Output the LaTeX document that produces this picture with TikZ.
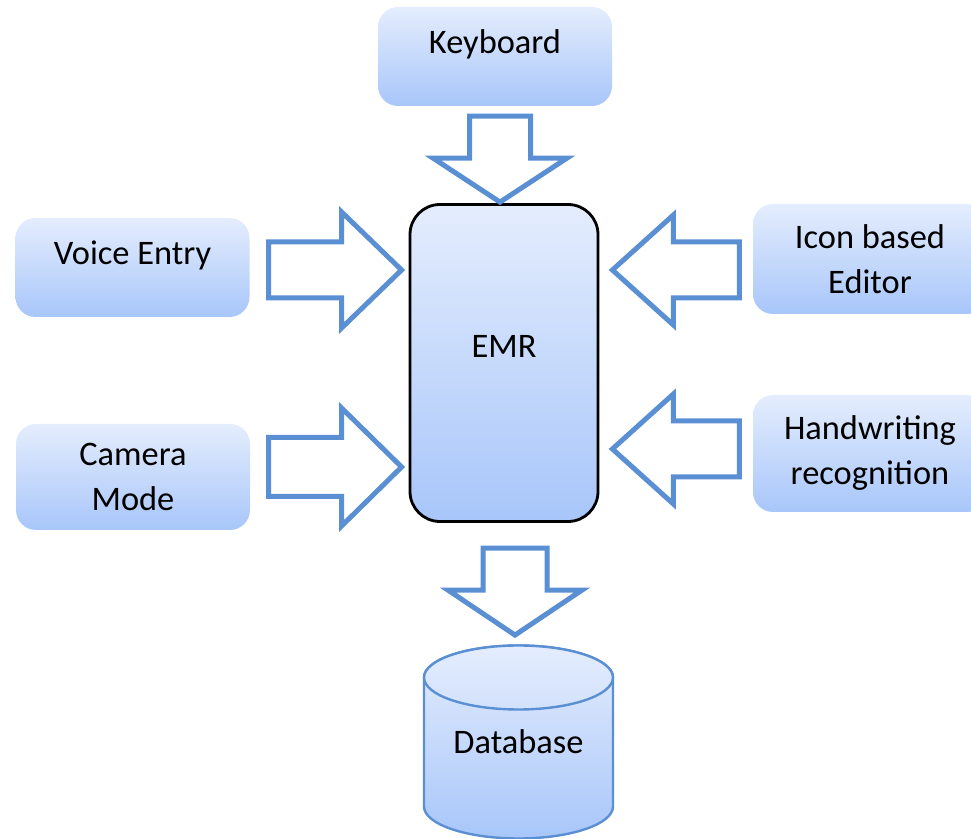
\documentclass[tikz,border=0pt]{standalone}
\usepackage{fontspec}
\setmainfont{Carlito}
\usetikzlibrary{calc}
\definecolor{boxtop}{HTML}{E4EDFD}
\definecolor{boxbot}{HTML}{A8C6FA}
\definecolor{arrowblue}{HTML}{5B8FD4}
\tikzset{
BOX/.style={draw=none, rounded corners=10pt, top color=boxtop, bottom color=boxbot, align=center, font=\fontsize{17.2}{22.5}\selectfont, inner sep=0pt, minimum width=117pt},
ONELINE/.style={text height=11.5pt, text depth=14pt},
EMRBOX/.style={BOX, draw=black, line width=1.4pt, rounded corners=15pt, minimum width=94pt, minimum height=158.5pt},
BLOCKARROW/.style={draw=arrowblue, line width=2.5pt, fill=white, line join=miter},
DB/.style={draw=arrowblue, line width=1.2pt, top color=boxtop, bottom color=boxbot},
}
\begin{document}
\begin{tikzpicture}[x=0.5pt,y=-0.5pt]
	\useasboundingbox (0,0) rectangle (971,839);
	\clip (0,0) rectangle (971,839);
	%Input boxes
	\node[BOX,ONELINE,minimum height=49.5pt] (kbd) at (495,56.5) {Keyboard};
	\node[BOX,ONELINE,minimum height=49.5pt] (voice) at (132.5,267.5) {Voice Entry};
	\node[BOX,minimum height=53pt] (cam) at (133,477) {Camera\\Mode};
	\node[BOX,minimum height=55pt] (icon) at (870,259) {Icon based\\Editor};
	\node[BOX,minimum height=58.5pt] (hand) at (870,453.5) {Handwriting\\recognition};
	%EMR
	\node[EMRBOX,text height=11.5pt,text depth=17pt] (emr) at (504,363) {EMR};
	%Database cylinder
	\coordinate (dbc) at (518.5,742);
	\path[DB] ($(dbc)+(-94.5,-64.5)$) -- ($(dbc)+(-94.5,64.5)$)
		arc[start angle=180, end angle=0, x radius=94.5, y radius=32]
		-- ($(dbc)+(94.5,-64.5)$)
		arc[start angle=0, end angle=-180, x radius=94.5, y radius=32] -- cycle;
	\path[DB,bottom color=boxtop!70!boxbot] ($(dbc)+(0,-64.5)$) ellipse [x radius=94.5, y radius=32];
	\node[font=\fontsize{17.2}{22.5}\selectfont,inner sep=0pt,minimum width=94.5pt,minimum height=96.5pt] (db) at (dbc) {Database};
	%Block arrows
	\draw[BLOCKARROW] ($(emr.north)+(-4,-1)$) -- ++(-67,-44) -- ++(36.5,0) -- ++(0,-42)
		-- ++(61,0) -- ++(0,42) -- ++(36.5,0) -- cycle;
	\draw[BLOCKARROW] ($(emr.west |- voice.east)+(-7,2.5)$) -- ++(-60,-58) -- ++(0,30) -- ++(-73,0)
		-- ++(0,56) -- ++(73,0) -- ++(0,30) -- cycle;
	\draw[BLOCKARROW] ($(emr.west |- cam.east)+(-7,-10)$) -- ++(-60,-59) -- ++(0,29.5) -- ++(-73,0)
		-- ++(0,59) -- ++(73,0) -- ++(0,29.5) -- cycle;
	\draw[BLOCKARROW] ($(emr.east |- icon.west)+(13,11)$) -- ++(61,-55) -- ++(0,27) -- ++(66,0)
		-- ++(0,56) -- ++(-66,0) -- ++(0,27) -- cycle;
	\draw[BLOCKARROW] ($(emr.east |- hand.west)+(13,-4.5)$) -- ++(61,-55) -- ++(0,27) -- ++(66,0)
		-- ++(0,56) -- ++(-66,0) -- ++(0,27) -- cycle;
	\draw[BLOCKARROW] ($(db.north)+(-3.5,-10)$) -- ++(-67,-45) -- ++(35,0) -- ++(0,-42)
		-- ++(64,0) -- ++(0,42) -- ++(35,0) -- cycle;
\end{tikzpicture}
\end{document}
